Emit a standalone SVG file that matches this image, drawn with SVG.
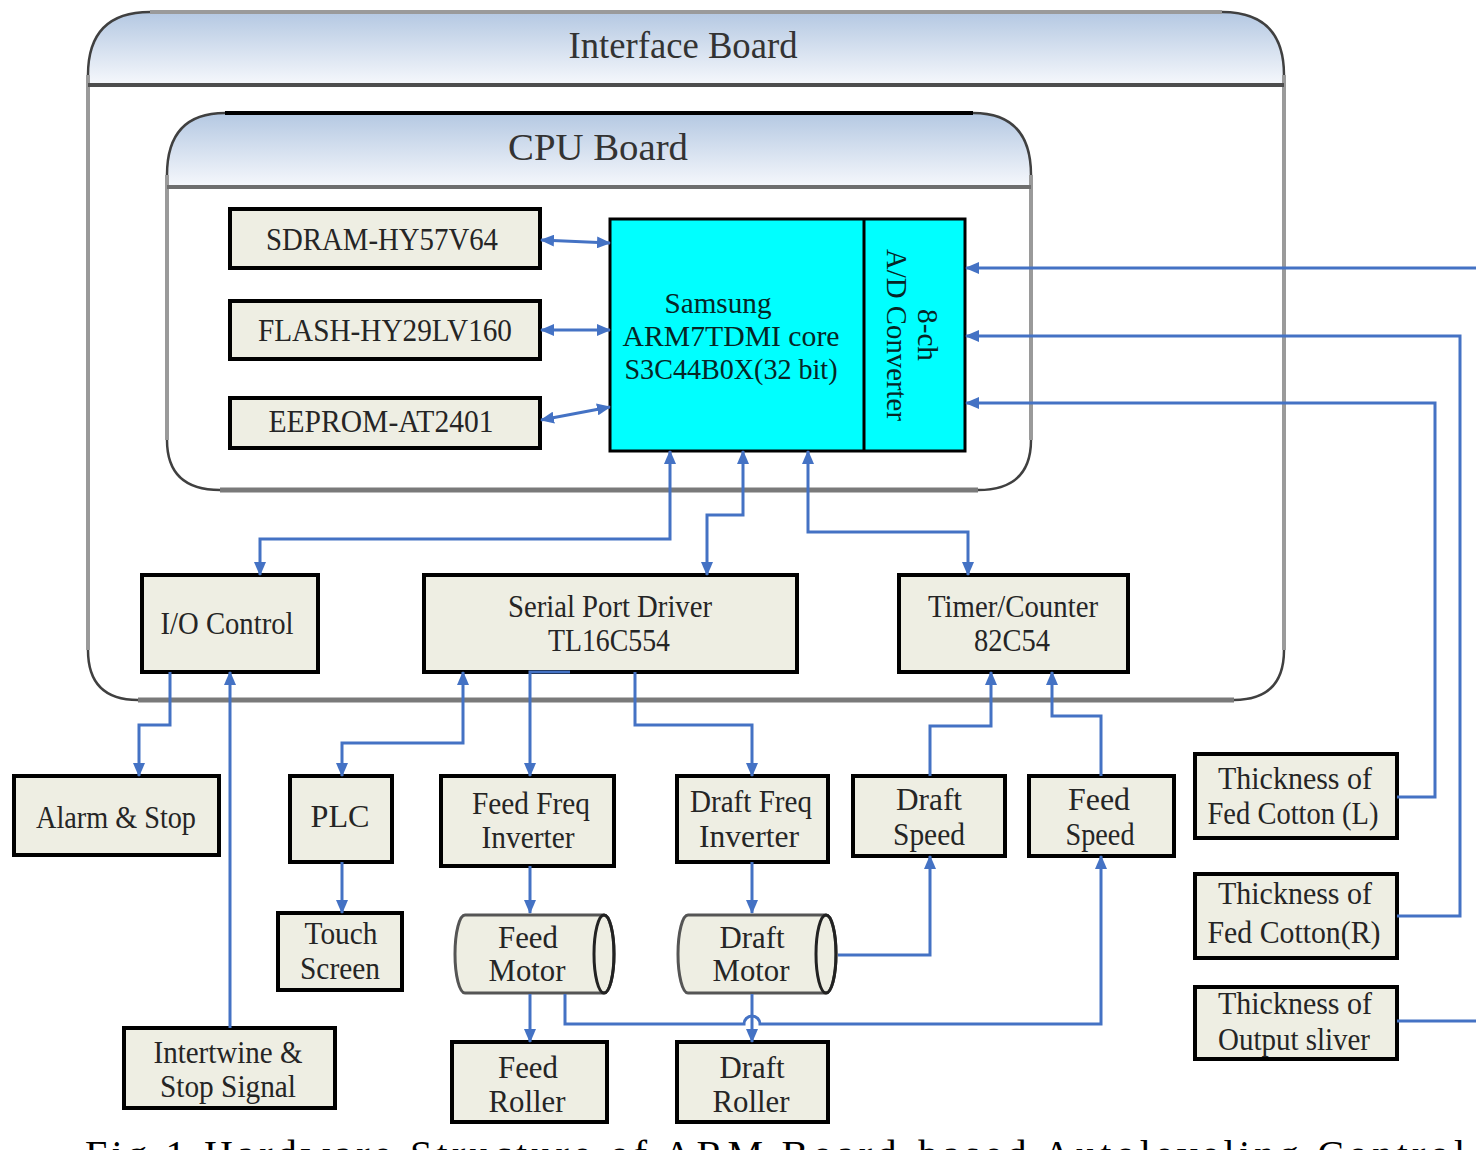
<svg xmlns="http://www.w3.org/2000/svg" width="1476" height="1150" viewBox="0 0 1476 1150">
<defs>
<linearGradient id="hdr" x1="0" y1="0" x2="0" y2="1">
<stop offset="0" stop-color="#b4c8e2"/>
<stop offset="1" stop-color="#f6f8fc"/>
</linearGradient>
<marker id="ah" viewBox="0 0 14 12" markerWidth="14" markerHeight="12" refX="13" refY="6" orient="auto-start-reverse" markerUnits="userSpaceOnUse">
<path d="M0,0 L14,6 L0,12 Z" fill="#4472c4"/>
</marker>
<style>
.box{fill:#eeeee3;stroke:#000;stroke-width:4}
.t{font-family:"Liberation Serif","Times New Roman",serif;font-size:31px;fill:#252525;text-anchor:middle;dominant-baseline:central}
.ct{font-family:"Liberation Serif","Times New Roman",serif;font-size:30px;fill:#062626;text-anchor:middle;dominant-baseline:central}
.h{font-family:"Liberation Serif","Times New Roman",serif;font-size:38px;fill:#333;text-anchor:middle;dominant-baseline:central}
.c{fill:none;stroke:#4472c4;stroke-width:3}
.ce{fill:none;stroke:#4472c4;stroke-width:3;marker-end:url(#ah)}
.cb{fill:none;stroke:#4472c4;stroke-width:3;marker-start:url(#ah);marker-end:url(#ah)}
.wall{fill:none;stroke:#9a9a9a;stroke-width:4}
.corner{fill:none;stroke:#404040;stroke-width:2.5}
.cyl{fill:#eeeee3;stroke:#555;stroke-width:3}
</style>
</defs>

<g id="interface-board">
<path d="M88,85 L88,75 Q88,12 150,12 L1222,12 Q1284,12 1284,75 L1284,85 Z" fill="url(#hdr)"/>
<path class="wall" d="M150,12 L1222,12"/>
<path class="wall" d="M88,75 L88,650 M1284,75 L1284,650"/>
<path fill="none" stroke="#7a7a7a" stroke-width="5" d="M138,700 L1234,700"/>
<path class="corner" d="M88,75 Q88,12 150,12 M1222,12 Q1284,12 1284,75 M88,650 Q88,700 138,700 M1284,650 Q1284,700 1234,700"/>
<line x1="88" y1="85" x2="1284" y2="85" stroke="#4d4d4d" stroke-width="4"/>
<text class="h" x="683" y="45" textLength="229" lengthAdjust="spacingAndGlyphs">Interface Board</text>
</g>

<g id="cpu-board">
<path d="M167,187 L167,175 Q167,113 225,113 L973,113 Q1031,113 1031,175 L1031,187 Z" fill="url(#hdr)"/>
<path fill="none" stroke="#000" stroke-width="4" d="M225,113 L973,113"/>
<path class="wall" d="M167,175 L167,440 M1031,175 L1031,440"/>
<path fill="none" stroke="#7a7a7a" stroke-width="5" d="M220,490 L978,490"/>
<path class="corner" d="M167,175 Q167,113 225,113 M973,113 Q1031,113 1031,175 M167,440 Q167,490 220,490 M1031,440 Q1031,490 978,490"/>
<line x1="167" y1="187" x2="1031" y2="187" stroke="#6e6e6e" stroke-width="4"/>
<text class="h" x="598" y="147" textLength="180" lengthAdjust="spacingAndGlyphs">CPU  Board</text>
</g>

<g id="sdram"><rect class="box" x="230" y="209" width="310" height="59"/><text class="t" x="382" y="239" textLength="232" lengthAdjust="spacingAndGlyphs">SDRAM-HY57V64</text></g>
<g id="flash"><rect class="box" x="230" y="301" width="310" height="58"/><text class="t" x="385" y="330" textLength="254" lengthAdjust="spacingAndGlyphs">FLASH-HY29LV160</text></g>
<g id="eeprom"><rect class="box" x="230" y="398" width="310" height="50"/><text class="t" x="381" y="421" textLength="225" lengthAdjust="spacingAndGlyphs">EEPROM-AT2401</text></g>

<g id="cpu">
<rect x="610" y="219" width="355" height="232" fill="#00ffff" stroke="#000" stroke-width="3"/>
<line x1="864" y1="219" x2="864" y2="451" stroke="#000" stroke-width="3"/>
<text class="ct" x="718" y="302" textLength="107" lengthAdjust="spacingAndGlyphs">Samsung</text>
<text class="ct" x="731" y="335" textLength="217" lengthAdjust="spacingAndGlyphs">ARM7TDMI  core</text>
<text class="ct" x="731" y="368" textLength="213" lengthAdjust="spacingAndGlyphs">S3C44B0X(32 bit)</text>
<text class="ct" transform="translate(928,335) rotate(90)" x="0" y="0" textLength="52" lengthAdjust="spacingAndGlyphs">8-ch</text>
<text class="ct" transform="translate(897,335) rotate(90)" x="0" y="0" textLength="172" lengthAdjust="spacingAndGlyphs">A/D Converter</text>
</g>

<g id="io-control"><rect class="box" x="142" y="575" width="176" height="97"/><text class="t" x="227" y="623" textLength="133" lengthAdjust="spacingAndGlyphs">I/O Control</text></g>
<g id="serial-port"><rect class="box" x="424" y="575" width="373" height="97"/><text class="t" x="610" y="606" textLength="204" lengthAdjust="spacingAndGlyphs">Serial Port Driver</text><text class="t" x="609" y="640" textLength="122" lengthAdjust="spacingAndGlyphs">TL16C554</text></g>
<g id="timer"><rect class="box" x="899" y="575" width="229" height="97"/><text class="t" x="1013" y="606" textLength="170" lengthAdjust="spacingAndGlyphs">Timer/Counter</text><text class="t" x="1012" y="640" textLength="76" lengthAdjust="spacingAndGlyphs">82C54</text></g>

<g id="alarm"><rect class="box" x="14" y="776" width="205" height="79"/><text class="t" x="116" y="817" textLength="160" lengthAdjust="spacingAndGlyphs">Alarm &amp; Stop</text></g>
<g id="plc"><rect class="box" x="290" y="776" width="102" height="86"/><text class="t" x="340" y="816" textLength="59" lengthAdjust="spacingAndGlyphs">PLC</text></g>
<g id="feed-freq"><rect class="box" x="441" y="776" width="173" height="90"/><text class="t" x="531" y="803" textLength="118" lengthAdjust="spacingAndGlyphs">Feed Freq</text><text class="t" x="528" y="837" textLength="93" lengthAdjust="spacingAndGlyphs">Inverter</text></g>
<g id="draft-freq"><rect class="box" x="677" y="776" width="151" height="86"/><text class="t" x="751" y="801" textLength="122" lengthAdjust="spacingAndGlyphs">Draft Freq</text><text class="t" x="749" y="836" textLength="100" lengthAdjust="spacingAndGlyphs">Inverter</text></g>
<g id="draft-speed"><rect class="box" x="853" y="776" width="152" height="80"/><text class="t" x="929" y="799" textLength="66" lengthAdjust="spacingAndGlyphs">Draft</text><text class="t" x="929" y="834" textLength="72" lengthAdjust="spacingAndGlyphs">Speed</text></g>
<g id="feed-speed"><rect class="box" x="1029" y="776" width="145" height="80"/><text class="t" x="1099" y="799" textLength="62" lengthAdjust="spacingAndGlyphs">Feed</text><text class="t" x="1100" y="834" textLength="69" lengthAdjust="spacingAndGlyphs">Speed</text></g>
<g id="thick-l"><rect class="box" x="1195" y="754" width="202" height="84"/><text class="t" x="1295" y="778" textLength="154" lengthAdjust="spacingAndGlyphs">Thickness  of</text><text class="t" x="1293" y="813" textLength="171" lengthAdjust="spacingAndGlyphs">Fed Cotton (L)</text></g>
<g id="thick-r"><rect class="box" x="1195" y="874" width="202" height="84"/><text class="t" x="1295" y="893" textLength="154" lengthAdjust="spacingAndGlyphs">Thickness  of</text><text class="t" x="1294" y="932" textLength="173" lengthAdjust="spacingAndGlyphs">Fed Cotton(R)</text></g>
<g id="thick-out"><rect class="box" x="1195" y="987" width="202" height="72"/><text class="t" x="1295" y="1003" textLength="154" lengthAdjust="spacingAndGlyphs">Thickness  of</text><text class="t" x="1294" y="1039" textLength="152" lengthAdjust="spacingAndGlyphs">Output sliver</text></g>
<g id="touch"><rect class="box" x="278" y="913" width="124" height="77"/><text class="t" x="341" y="933" textLength="73" lengthAdjust="spacingAndGlyphs">Touch</text><text class="t" x="340" y="968" textLength="80" lengthAdjust="spacingAndGlyphs">Screen</text></g>
<g id="feed-motor">
<path class="cyl" d="M465,915 L604,915 A10,39 0 0 1 604,993 L465,993 A10,39 0 0 1 465,915 Z"/>
<ellipse cx="604" cy="954" rx="10" ry="39" fill="none" stroke="#222" stroke-width="3"/>
<text class="t" x="528" y="937" textLength="60" lengthAdjust="spacingAndGlyphs">Feed</text><text class="t" x="527" y="970" textLength="77" lengthAdjust="spacingAndGlyphs">Motor</text>
</g>
<g id="draft-motor">
<path class="cyl" d="M688,915 L826,915 A10,39 0 0 1 826,993 L688,993 A10,39 0 0 1 688,915 Z"/>
<ellipse cx="826" cy="954" rx="10" ry="39" fill="none" stroke="#222" stroke-width="3"/>
<text class="t" x="752" y="937" textLength="65" lengthAdjust="spacingAndGlyphs">Draft</text><text class="t" x="751" y="970" textLength="77" lengthAdjust="spacingAndGlyphs">Motor</text>
</g>
<g id="intertwine"><rect class="box" x="124" y="1028" width="211" height="80"/><text class="t" x="228" y="1052" textLength="149" lengthAdjust="spacingAndGlyphs">Intertwine &amp;</text><text class="t" x="228" y="1086" textLength="136" lengthAdjust="spacingAndGlyphs">Stop Signal</text></g>
<g id="feed-roller"><rect class="box" x="452" y="1042" width="155" height="80"/><text class="t" x="528" y="1067" textLength="60" lengthAdjust="spacingAndGlyphs">Feed</text><text class="t" x="527" y="1101" textLength="77" lengthAdjust="spacingAndGlyphs">Roller</text></g>
<g id="draft-roller"><rect class="box" x="677" y="1042" width="151" height="80"/><text class="t" x="752" y="1067" textLength="65" lengthAdjust="spacingAndGlyphs">Draft</text><text class="t" x="751" y="1101" textLength="77" lengthAdjust="spacingAndGlyphs">Roller</text></g>

<g id="connectors">
<path class="cb" d="M541,240 L610,243"/>
<path class="cb" d="M541,330 L610,330"/>
<path class="cb" d="M541,420 L610,407"/>
<path class="ce" d="M1476,268 L966,268"/>
<path class="ce" d="M1397,916 L1460,916 L1460,336 L966,336"/>
<path class="ce" d="M1397,797 L1435,797 L1435,403 L966,403"/>
<path class="c" d="M1397,1021 L1476,1021"/>
<path class="cb" d="M670,451 L670,539 L260,539 L260,575"/>
<path class="cb" d="M743,451 L743,515 L707,515 L707,575"/>
<path class="cb" d="M808,451 L808,532 L968,532 L968,575"/>
<path class="ce" d="M170,672 L170,725 L139,725 L139,776"/>
<path class="ce" d="M230,1028 L230,672"/>
<path class="cb" d="M463,672 L463,743 L342,743 L342,776"/>
<path class="ce" d="M570,672 L530,672 L530,776"/>
<path class="ce" d="M635,672 L635,725 L752,725 L752,776"/>
<path class="ce" d="M342,862 L342,913"/>
<path class="ce" d="M530,866 L530,913"/>
<path class="ce" d="M752,862 L752,913"/>
<path class="ce" d="M530,994 L530,1042"/>
<path class="ce" d="M752,994 L752,1042"/>
<path class="ce" d="M565,994 L565,1024 L744,1024 A8,8 0 0 1 760,1024 L1101,1024 L1101,856"/>
<path class="ce" d="M838,955 L930,955 L930,856"/>
<path class="ce" d="M930,776 L930,726 L991,726 L991,672"/>
<path class="ce" d="M1101,776 L1101,716 L1052,716 L1052,672"/>
</g>

<text x="85" y="1168" font-family="Liberation Serif, Times New Roman, serif" font-size="40" fill="#000" textLength="1380">Fig.1 Hardware Structure of ARM Board-based Autoleveling Control</text>
</svg>
